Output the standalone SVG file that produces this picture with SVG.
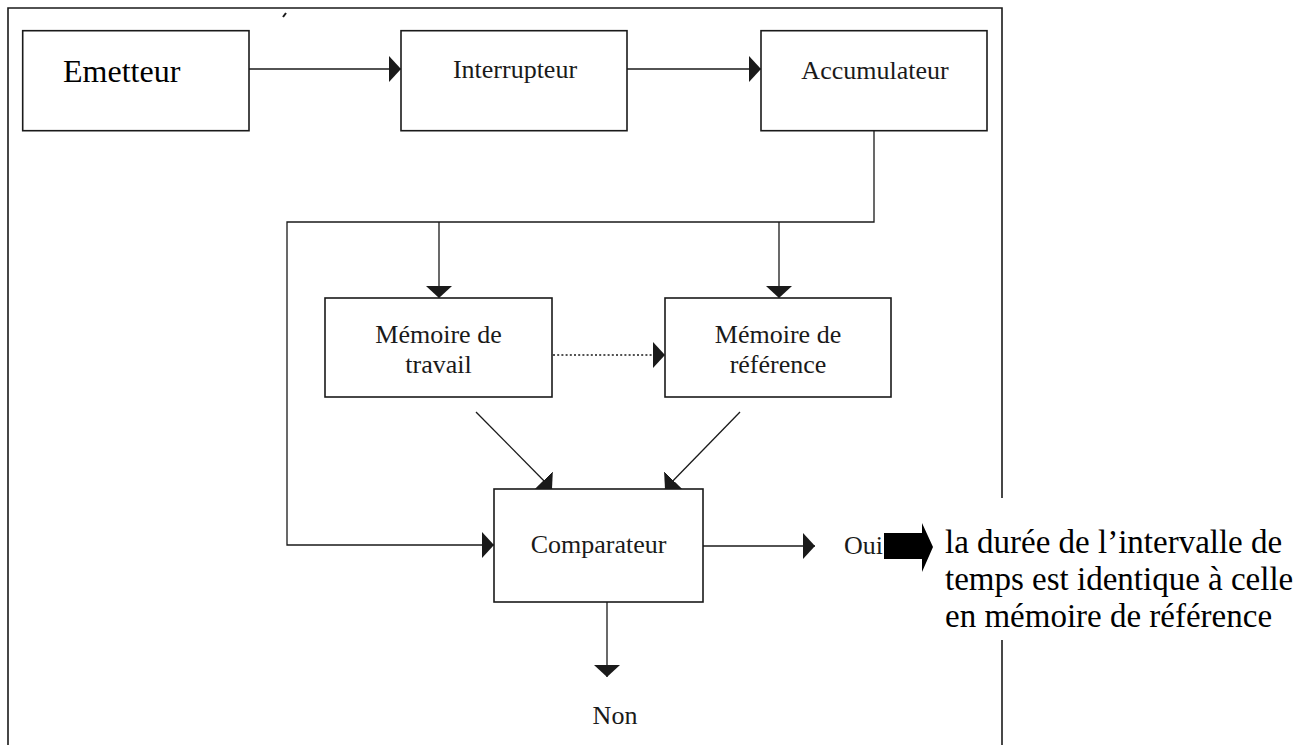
<svg xmlns="http://www.w3.org/2000/svg" width="1309" height="745" viewBox="0 0 1309 745">
  <style>
    .box { fill: #fff; stroke: #1a1a1a; stroke-width: 1.6; }
    .frame { fill: none; stroke: #1a1a1a; stroke-width: 1.6; }
    .wire { fill: none; stroke: #1a1a1a; stroke-width: 1.3; }
    .dotted { stroke-dasharray: 2 2.2; }
    .label { font-family: "Liberation Serif", "Times New Roman", serif; font-size: 26px; fill: #1a1a1a; text-anchor: middle; }
    .big { font-family: "Liberation Serif", "Times New Roman", serif; font-size: 33px; fill: #000; }
  </style>
  <defs>
    <marker id="head" markerUnits="userSpaceOnUse" markerWidth="13" markerHeight="27" refX="12" refY="13" orient="auto">
      <path d="M0,0 L12,13 L0,26 Z" fill="#1a1a1a"/>
    </marker>
  </defs>

  <rect width="1309" height="745" fill="#fff"/>

  <!-- outer frame, right side interrupted by the conclusion text -->
  <g id="frame">
    <path class="frame" d="M8,745 L8,8 L1002,8 L1002,498"/>
    <path class="frame" d="M1002,640 L1002,745"/>
    <path d="M283,17 L286,13" stroke="#1a1a1a" stroke-width="2"/>
  </g>

  <!-- connectors -->
  <g id="connectors">
    <line class="wire" x1="249" y1="69" x2="401" y2="69" marker-end="url(#head)"/>
    <line class="wire" x1="627" y1="69" x2="761" y2="69" marker-end="url(#head)"/>
    <path class="wire" d="M874,131 L874,222 L287,222 L287,545 L494,545" marker-end="url(#head)"/>
    <line class="wire" x1="439" y1="222" x2="439" y2="298" marker-end="url(#head)"/>
    <line class="wire" x1="779" y1="222" x2="779" y2="298" marker-end="url(#head)"/>
    <line class="wire dotted" x1="553" y1="355" x2="665" y2="355" marker-end="url(#head)"/>
    <line class="wire" x1="476" y1="412" x2="552" y2="489" marker-end="url(#head)"/>
    <line class="wire" x1="740" y1="412" x2="665" y2="489" marker-end="url(#head)"/>
    <line class="wire" x1="703" y1="546" x2="815" y2="546" marker-end="url(#head)"/>
    <line class="wire" x1="607" y1="602" x2="607" y2="677" marker-end="url(#head)"/>
  </g>

  <g id="emetteur">
    <rect class="box" x="22.7" y="30.7" width="226.3" height="100"/>
    <text x="63" y="82" font-family="Liberation Serif, Times New Roman, serif" font-size="32" fill="#000">Emetteur</text>
  </g>

  <g id="interrupteur">
    <rect class="box" x="401" y="30.7" width="226" height="100"/>
    <text class="label" x="515" y="78">Interrupteur</text>
  </g>

  <g id="accumulateur">
    <rect class="box" x="761" y="30.7" width="226" height="100"/>
    <text class="label" x="875" y="79">Accumulateur</text>
  </g>

  <g id="memoire-travail">
    <rect class="box" x="325" y="298" width="227" height="99"/>
    <text class="label" x="438.5" y="343" font-size="25">Mémoire de</text>
    <text class="label" x="438.5" y="373" font-size="25">travail</text>
  </g>

  <g id="memoire-reference">
    <rect class="box" x="665" y="298" width="226" height="99"/>
    <text class="label" x="778" y="343" font-size="25">Mémoire de</text>
    <text class="label" x="778" y="373" font-size="25">référence</text>
  </g>

  <g id="comparateur">
    <rect class="box" x="494" y="489" width="209" height="113"/>
    <text class="label" x="598.5" y="553">Comparateur</text>
  </g>

  <g id="oui">
    <text class="label" x="844" y="554" style="text-anchor:start">Oui</text>
    <path d="M884,533 L922,533 L922,523 L933,547 L922,572 L922,559 L884,559 Z" fill="#000"/>
  </g>

  <g id="non">
    <text class="label" x="615" y="724">Non</text>
  </g>

  <g id="conclusion">
    <text class="big" x="945" y="553">la durée de l’intervalle de</text>
    <text class="big" x="945" y="590">temps est identique à celle</text>
    <text class="big" x="945" y="627">en mémoire de référence</text>
  </g>
</svg>
